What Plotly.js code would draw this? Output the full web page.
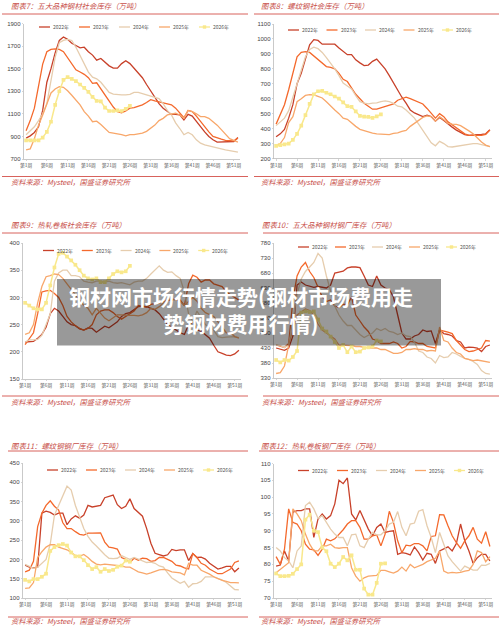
<!DOCTYPE html>
<html><head><meta charset="utf-8">
<script src="https://cdn.plot.ly/plotly-3.0.1.min.js"></script>
<style>html,body{margin:0;padding:0;background:#fff}#c{width:500px;height:626px}</style>
</head><body><div id="c"></div>
<script>
const seriesNames=['2022年','2023年','2024年','2025年','2026年'];
const weeks=[];for(let i=1;i<=52;i++)weeks.push('第'+i+'周');
const tickWeeks=['第1周','第6周','第11周','第16周','第21周','第26周','第31周','第36周','第41周','第46周','第51周'];
const titles=['图表7：五大品种钢材社会库存（万吨）','图表8：螺纹钢社会库存（万吨）','图表9：热轧卷板社会库存（万吨）','图表10：五大品种钢材钢厂库存（万吨）','图表11：螺纹钢钢厂库存（万吨）','图表12：热轧卷板钢厂库存（万吨）'];
const sourceText='资料来源：Mysteel，国盛证券研究所';
const bannerText='钢材网市场行情走势(钢材市场费用走<br>势钢材费用行情)';

const c1_2022=[885,905,935,985,1130,1380,1500,1640,1750,1780,1760,1725,1705,1685,1690,1650,1620,1575,1590,1560,1525,1505,1505,1545,1570,1545,1500,1460,1420,1360,1300,1250,1190,1150,1120,1095,1095,1090,1045,1095,1080,1030,985,940,900,870,850,850,850,850,855,890];
const c1_2023=[950,1040,1150,1330,1540,1650,1670,1675,1670,1650,1600,1540,1490,1470,1450,1420,1370,1375,1320,1265,1210,1160,1120,1110,1125,1150,1155,1165,1180,1200,1225,1215,1205,1195,1185,1180,1150,1110,1065,1130,1120,1080,1030,980,940,900,885,875,865,865,860,885];
const c1_2024=[915,950,985,1040,1100,1190,1380,1600,1730,1750,1760,1750,1690,1620,1540,1470,1425,1410,1380,1330,1290,1275,1270,1268,1268,1272,1290,1290,1280,1270,1260,1250,1235,1190,1130,1090,1020,970,915,935,915,870,840,825,815,810,795,785,780,775,765,760];
const c1_2025=[780,790,880,1000,1090,1180,1285,1320,1340,1335,1305,1265,1225,1180,1120,1080,1030,1035,1005,970,935,930,925,915,905,915,915,920,930,945,970,1000,1040,1060,1090,1100,1105,1090,1060,1130,1120,1100,1075,1075,1060,1030,1000,960,920,880,865,850];
const c1_2026=[865,865,865,865,890,940,1030,1180,1300,1400,1425,1410,1390,1360,1330,1295,1250,1215,1210,1155,1125,1125,1130,1125,1145,1170];

const c2_2022=[345,365,395,470,560,700,770,860,960,995,990,965,965,965,965,940,920,895,895,860,840,822,825,850,865,835,800,755,705,655,610,570,525,505,490,480,490,480,450,475,455,430,410,390,375,360,355,355,360,362,365,392];
const c2_2023=[430,490,560,660,780,880,910,915,910,885,860,835,815,810,800,770,730,715,670,630,600,570,550,530,530,540,550,555,565,590,600,610,600,590,580,565,535,505,470,500,480,445,425,400,380,365,355,355,355,355,362,390];
const c2_2024=[420,445,470,520,610,700,800,880,930,945,935,910,875,840,800,755,705,685,665,620,580,570,565,570,572,580,585,580,570,550,545,525,500,470,430,390,345,305,285,315,300,280,277,282,287,293,295,300,300,295,285,280];
const c2_2025=[290,300,340,440,480,580,600,622,628,625,615,605,580,550,525,500,470,462,435,415,395,385,378,370,365,362,362,360,368,372,382,388,415,435,455,475,485,480,450,480,460,435,430,428,420,405,385,365,335,310,290,280];
const c2_2026=[285,290,295,300,325,365,420,490,565,630,650,652,640,630,615,600,575,550,545,515,485,480,478,472,482,495];

const c3_2022=[218,219,219,225,232,245,270,280,275,265,255,250,248,242,240,244,243,236,242,247,244,250,255,265,270,272,278,283,284,283,280,277,270,260,250,245,240,235,232,250,255,240,238,232,225,212,200,197,194,193,196,203];
const c3_2023=[213,225,235,270,310,312,313,307,300,285,265,255,248,243,240,243,250,268,275,277,277,272,265,260,265,270,275,285,283,282,287,288,290,292,295,295,298,295,285,325,341,337,328,332,332,325,322,320,310,305,300,295];
const c3_2024=[218,222,222,223,230,250,270,330,345,350,350,340,340,338,330,328,327,330,330,328,330,327,326,327,325,323,328,330,330,335,343,350,358,350,346,347,340,335,310,270,255,275,262,250,245,240,228,226,227,227,228,226];
const c3_2025=[232,235,250,290,320,338,340,343,342,335,325,315,305,295,285,280,268,280,270,262,257,262,268,268,267,267,267,266,268,272,280,278,283,290,297,297,295,293,285,293,300,293,280,272,268,265,255,245,235,235,228,225];
const c3_2026=[290,285,280,278,278,290,322,355,380,382,375,368,360,350,340,335,333,335,328,328,335,343,348,346,348,358];

const c4_2022=[430,425,422,430,470,640,650,640,635,632,635,632,630,640,680,683,686,697,700,700,698,670,640,635,670,640,630,625,600,540,480,460,460,470,475,490,485,487,445,490,478,475,470,455,450,430,433,432,430,418,435,440];
const c4_2023=[440,435,432,445,590,670,700,715,685,665,630,600,585,590,570,565,575,575,600,540,520,500,485,460,455,445,445,445,450,445,430,435,452,450,445,445,435,432,430,490,487,483,478,455,440,425,418,420,425,430,455,453];
const c4_2024=[440,438,432,440,520,610,660,685,700,715,745,730,670,620,570,540,520,505,505,490,475,465,472,480,495,488,495,485,482,475,480,470,468,450,420,415,400,395,380,405,398,400,415,410,402,395,392,385,375,355,345,343];
const c4_2025=[345,348,370,440,490,540,550,560,555,540,510,490,480,470,460,440,440,440,438,435,435,432,430,430,430,425,425,418,412,412,415,425,425,428,425,425,420,422,420,500,455,450,430,415,410,395,392,388,390,388,385,382];
const c4_2026=[390,382,390,388,400,420,548,552,550,552,525,495,485,468,450,430,440,416,435,416,418,430,432,435,455,452];

const c5_2022=[185,180,178,180,320,325,322,315,320,320,290,305,313,307,315,340,336,338,340,360,363,367,342,332,338,357,332,322,312,280,242,216,213,209,212,226,223,225,225,197,215,205,206,201,190,182,175,178,182,182,168,178];
const c5_2023=[168,172,195,285,320,340,352,338,328,295,280,280,272,265,263,268,268,269,269,245,232,230,227,205,200,192,203,198,203,202,195,197,205,205,200,195,185,183,178,175,215,205,190,185,175,168,163,163,168,175,192,196];
const c5_2024=[187,182,177,180,190,200,240,315,340,365,390,380,340,310,280,260,245,235,222,212,203,202,203,210,205,200,205,200,195,192,193,190,183,180,165,152,145,138,143,128,137,138,143,155,155,155,150,147,140,132,122,121];
const c5_2025=[125,126,140,205,220,232,238,238,232,228,225,218,210,208,213,205,195,188,186,188,187,186,185,183,180,180,174,168,165,162,165,170,173,174,172,168,167,165,160,190,185,185,172,168,162,155,150,146,143,140,140,139];
const c5_2026=[147,143,149,149,155,163,222,232,237,240,236,218,208,208,198,185,175,180,168,175,170,173,181,184,197,194];

const c6_2022=[79.5,79.8,84,81,95.5,96,96,96.5,96.5,88,93.5,95,93.5,94.5,98,105,104,105.7,95,93.2,96,93,90.5,88.5,91,92,89.5,89.8,90,83,83.5,83.3,82.8,85.2,83.5,81.3,83.3,83,80.3,84,84.6,85.2,84,86.2,92,87,84,80.3,82,83,83,81];
const c6_2023=[82.3,80,84.5,96.5,92.5,92,90,86,84.5,84.3,82.7,84.5,87.5,87,87.6,88.8,90.3,92,93,93,91,87.5,87.5,88.5,88.8,85.5,89,95.8,92.5,87,83.5,85.7,85.5,86.2,86.2,85.5,84,88.3,88.5,94.8,94.7,91.5,88.5,86.5,84.8,87,88.5,91,87.5,86.3,89.7,85.3];
const c6_2024=[85,84,82,81,79,84,85.5,97.5,98.5,96.5,93.7,94.5,92.5,90.5,89,88,88,85.5,88.8,89,85.5,85,87.5,89.5,88.8,88.8,90,92,92.5,95.7,91,88.5,92,92.3,95.8,96.3,91.5,88,83.5,89.5,86,82.5,80.8,79.5,78,79.5,78.8,78.3,78.3,79.8,79.7,80.3];
const c6_2025=[77.5,78.5,79.5,80.5,96.5,95,93,89,86,84,84,85.5,85.5,86,85,84.8,85,85,79,76.5,75,76,76.5,76.5,76.7,78.2,78.2,77.8,77.4,78,79.2,78,80,79,79.5,80,80.8,81.3,81.8,84,78,77.4,77.6,77.5,77.6,78,78.2,80,84,83.5,80.8,82.3];
const c6_2026=[77.3,76.5,76.5,76.6,77.2,78.6,80,93.3,94.8,90,89.6,85,83.9,80.2,79.2,80.2,82.2,81.2,82.7,78.4,78.4,72.8,71,71,74.5,80.2,80.3];

const panelData=[
 [c1_2022,c1_2023,c1_2024,c1_2025,c1_2026],
 [c2_2022,c2_2023,c2_2024,c2_2025,c2_2026],
 [c3_2022,c3_2023,c3_2024,c3_2025,c3_2026],
 [c4_2022,c4_2023,c4_2024,c4_2025,c4_2026],
 [c5_2022,c5_2023,c5_2024,c5_2025,c5_2026],
 [c6_2022,c6_2023,c6_2024,c6_2025,c6_2026]
];
const W=500,H=626;
const colors=['#C8412A','#F4692C','#E6CDAE','#F8A76A','#F9E88C'];
const red='#C8504A';
// geometry of each panel, in page pixels
const geo=[
 {l:24,r:240,t:23.5,b:159,rule1:14,rule2:176.5,head:5.5,src:182,ruleL:2,ruleR:248,titleX:9,legX:39,legY:27,legStep:40,ymin:700,ymax:1900,dy:200},
 {l:274,r:492,t:24,b:158.5,rule1:14,rule2:176.5,head:5.5,src:182,ruleL:254,ruleR:499,titleX:259,legX:288,legY:30,legStep:38.5,ymin:200,ymax:1100,dy:100},
 {l:23,r:241,t:243,b:379,rule1:233,rule2:396,head:225,src:402,ruleL:2,ruleR:248,titleX:9,legX:43,legY:250.5,legStep:38.8,ymin:150,ymax:400,dy:50},
 {l:274,r:492,t:243,b:378,rule1:233,rule2:396,head:225,src:402,ruleL:263,ruleR:499,titleX:260,legX:298,legY:247,legStep:37,ymin:330,ymax:780,dy:50},
 {l:23,r:241,t:463,b:598,rule1:451,rule2:617,head:445,src:621,ruleL:8,ruleR:248,titleX:9,legX:47,legY:470,legStep:39,ymin:100,ymax:450,dy:50},
 {l:274,r:492,t:463.5,b:598,rule1:451,rule2:617,head:445,src:621,ruleL:259,ruleR:499,titleX:259,legX:298,legY:470.5,legStep:39,ymin:70,ymax:110,dy:5}
];
const px=x=>x/W, py=y=>1-y/H;
const sans='"Liberation Sans",sans-serif', cjk='"Noto Sans CJK SC",sans-serif';
const traces=[];
const layout={width:W,height:H,margin:{l:0,r:0,t:0,b:0},paper_bgcolor:'#fff',plot_bgcolor:'rgba(0,0,0,0)',showlegend:false,annotations:[],shapes:[],font:{family:sans,size:6,color:'#444'}};
geo.forEach((g,i)=>{
 const n=i+1, sfx=n===1?'':String(n);
 panelData[i].forEach((vals,k)=>{
  const t={type:'scatter',mode:k===4?'lines+markers':'lines',name:seriesNames[k],x:weeks.slice(0,vals.length),y:vals,
   xaxis:'x'+sfx,yaxis:'y'+sfx,hoverinfo:'skip',
   line:{color:colors[k],width:k===4?1.5:1.3}};
  if(k===4)t.marker={color:colors[k],size:3.7,symbol:'square'};
  traces.push(t);
  // hand-built legend entry: sample line, optional marker, label
  const lx=g.legX+k*g.legStep;
  layout.shapes.push({type:'line',xref:'paper',yref:'paper',x0:px(lx),x1:px(lx+11),y0:py(g.legY),y1:py(g.legY),line:{color:colors[k],width:1.3}});
  if(k===4)layout.shapes.push({type:'rect',xref:'paper',yref:'paper',x0:px(lx+3.8),x1:px(lx+7.2),y0:py(g.legY-1.7),y1:py(g.legY+1.7),fillcolor:colors[k],line:{width:0}});
  layout.annotations.push({xref:'paper',yref:'paper',x:px(lx+12),y:py(g.legY),xanchor:'left',yanchor:'middle',showarrow:false,text:seriesNames[k],font:{family:cjk,size:5,color:'#555'}});
 });
 layout['xaxis'+sfx]={domain:[px(g.l),px(g.r)],anchor:'y'+sfx,type:'category',categoryorder:'array',categoryarray:weeks,range:[-0.5,51.5],
  tickmode:'array',tickvals:tickWeeks,ticktext:tickWeeks,tickangle:0,ticks:'outside',ticklen:1.5,tickwidth:0.6,tickcolor:'#BBB',
  showline:true,linecolor:'#BBB',linewidth:0.8,showgrid:false,zeroline:false,tickfont:{family:cjk,size:4.8,color:'#555'}};
 layout['yaxis'+sfx]={domain:[py(g.b),py(g.t)],anchor:'x'+sfx,range:[g.ymin,g.ymax],dtick:g.dy,tick0:g.ymin,ticks:'outside',ticklen:1.5,tickwidth:0.6,tickcolor:'#BBB',
  showline:true,linecolor:'#BBB',linewidth:0.8,showgrid:false,zeroline:false,tickfont:{family:sans,size:6,color:'#444'}};
 [g.rule1,g.rule2].forEach(y=>layout.shapes.push({type:'line',xref:'paper',yref:'paper',x0:px(g.ruleL),x1:px(g.ruleR),y0:py(y),y1:py(y),line:{color:'#D8625C',width:1}}));
 layout.annotations.push({xref:'paper',yref:'paper',x:px(g.titleX),y:py(g.head),xanchor:'left',yanchor:'middle',showarrow:false,text:'<i>'+titles[i]+'</i>',font:{family:cjk,size:7.4,color:red}});
 layout.annotations.push({xref:'paper',yref:'paper',x:px(g.titleX),y:py(g.src),xanchor:'left',yanchor:'middle',showarrow:false,text:'<i>'+sourceText+'</i>',font:{family:cjk,size:7.2,color:red}});
});
layout.shapes.push({type:'rect',xref:'paper',yref:'paper',x0:px(57),x1:px(441),y0:py(279),y1:py(345.5),fillcolor:'rgba(0,0,0,0.4)',line:{width:0},layer:'above'});
layout.annotations.push({xref:'paper',yref:'paper',x:px(240.5),y:py(309.5),xanchor:'center',yanchor:'middle',showarrow:false,align:'center',text:'<b>'+bannerText+'</b>',font:{family:cjk,size:21,color:'#fff'}});
Plotly.newPlot('c',traces,layout,{displayModeBar:false,staticPlot:true});
</script></body></html>
